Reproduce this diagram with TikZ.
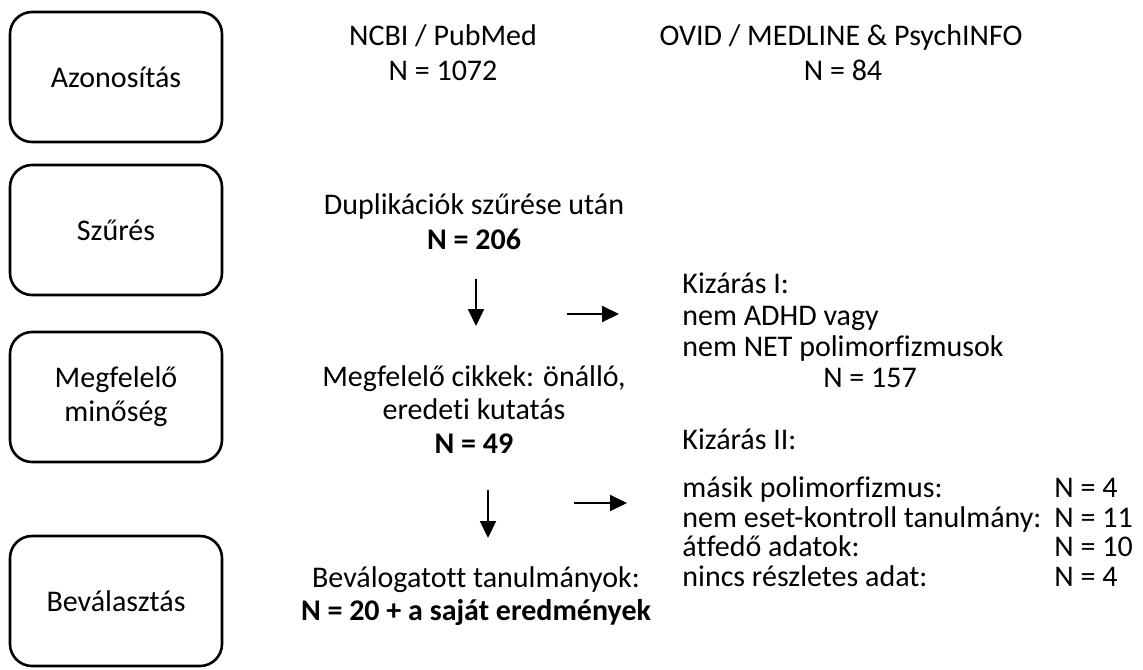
\documentclass[tikz,border=0pt]{standalone}
\usepackage{fontspec}
\setmainfont{Carlito}[Ligatures={NoCommon,TeX}]
\usetikzlibrary{arrows.meta,positioning}
\tikzset{phase/.style={rectangle, rounded corners=11pt, draw=black, line width=1.3pt, minimum width=106pt, minimum height=65pt, align=center, inner sep=0pt},flowarrow/.style={-{Triangle[length=8.5pt,width=8pt]},line width=1pt},txt/.style={anchor=base,inner sep=0pt},lst/.style={anchor=base west,inner sep=0pt}}

\begin{document}
\begin{tikzpicture} [x=0.5pt,y=-0.5pt,font=\fontsize{15}{17}\selectfont]

\useasboundingbox (0,0) rectangle (1143,669);

\node[phase] (azon) at (116,77) {Azonosítás};
\node[phase] (szur) at (116,230) {Szűrés};
\node[phase] (megf) at (116,397) {Megfelelő\\minőség};
\node[phase] (beva) at (116,601) {Beválasztás};

\node[txt] (ncbi) at (443,45) {NCBI / PubMed};
\node[txt] (ncbin) at (443,80) {N = 1072};
\node[txt] (ovid) at (841,45) {OVID / MEDLINE \& PsychINFO};
\node[txt] (ovidn) at (843,80) {N = 84};

\node[txt] (dup) at (474,214) {Duplikációk szűrése után};
\node[txt] (dupn) at (474,249) {\bfseries N = 206};

\node[txt] (cikk) at (474,386) {Megfelelő cikkek: önálló,};
\node[txt] (cikkb) at (474,419) {eredeti kutatás};
\node[txt] (cikkn) at (474,453) {\bfseries N = 49};

\node[txt] (valo) at (476,587) {Beválogatott tanulmányok:};
\node[txt] (valon) at (476,620) {\bfseries N = 20 + a saját eredmények};

\node[lst] (kiz1) at (682,293) {Kizárás I:};
\node[lst] (kiz1a) at (682,325) {nem ADHD vagy};
\node[lst] (kiz1b) at (682,356) {nem NET polimorfizmusok};
\node[txt] (kiz1n) at (870,387) {N = 157};

\node[lst] (kiz2) at (682,449) {Kizárás II:};
\node[lst] (kiz2a) at (682,497) {másik polimorfizmus:};
\node[lst] (kiz2b) at (682,527) {nem eset-kontroll tanulmány:};
\node[lst] (kiz2c) at (682,556) {átfedő adatok:};
\node[lst] (kiz2d) at (682,586) {nincs részletes adat:};
\node[lst] (kiz2an) at (1054,497) {N = 4};
\node[lst] (kiz2bn) at (1054,527) {N = 11};
\node[lst] (kiz2cn) at (1054,556) {N = 10};
\node[lst] (kiz2dn) at (1054,586) {N = 4};

\coordinate (le1a) at (476,279);
\coordinate (le1b) at (476,326);
\coordinate (ki1a) at (567,314);
\coordinate (ki1b) at (619,314);
\coordinate (le2a) at (488,490);
\coordinate (le2b) at (488,538);
\coordinate (ki2a) at (574,503);
\coordinate (ki2b) at (627,503);

\draw[flowarrow] (le1a) -- (le1b);
\draw[flowarrow] (ki1a) -- (ki1b);
\draw[flowarrow] (le2a) -- (le2b);
\draw[flowarrow] (ki2a) -- (ki2b);
\end{tikzpicture}
\end{document}
